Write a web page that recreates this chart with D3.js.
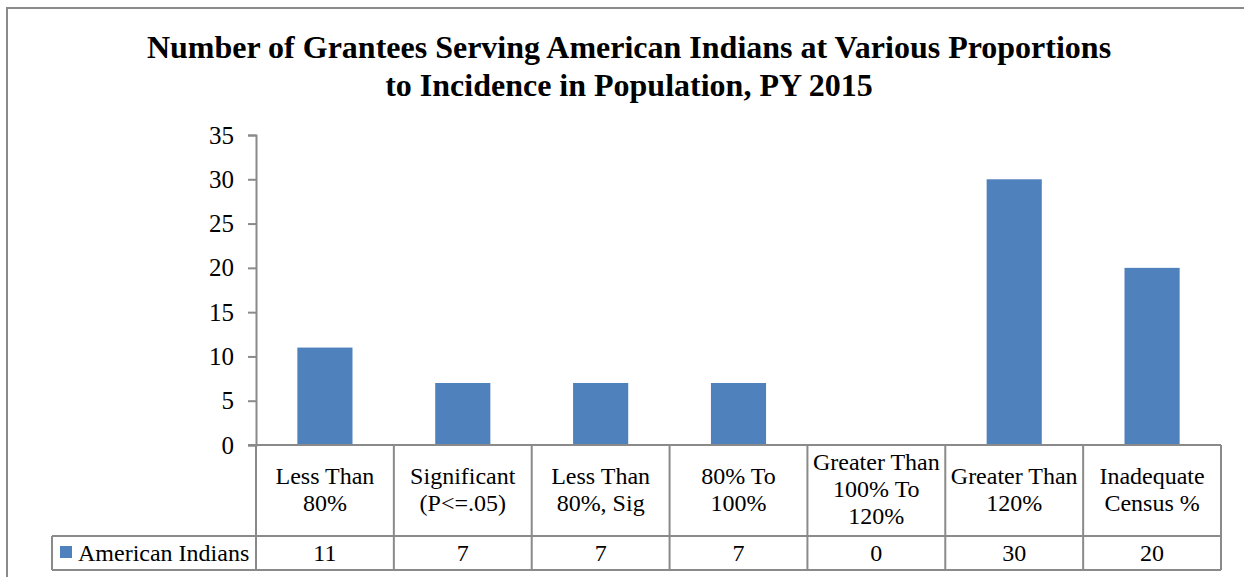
<!DOCTYPE html>
<html>
<head>
<meta charset="utf-8">
<script src="https://cdn.jsdelivr.net/npm/d3@7"></script>
<style>
  body { margin: 0; background: #fff; }
  text { font-family: "Liberation Serif", "Times New Roman", serif; fill: #000; }
</style>
</head>
<body>
<div id="chart"></div>
<script>
// data
var categories = [
  ["Less Than", "80%"],
  ["Significant", "(P<=.05)"],
  ["Less Than", "80%, Sig"],
  ["80% To", "100%"],
  ["Greater Than", "100% To", "120%"],
  ["Greater Than", "120%"],
  ["Inadequate", "Census %"]
];
var seriesName = "American Indians";
var values = [11, 7, 7, 7, 0, 30, 20];
var yTicks = [0, 5, 10, 15, 20, 25, 30, 35];
var titleLines = [
  "Number of Grantees Serving American Indians at Various Proportions",
  "to Incidence in Population, PY 2015"
];

var width = 1244, height = 577;
var plotLeft = 256, plotRight = 1221, plotTop = 135, zeroY = 445;
var headerBottom = 536, tableBottom = 570, legendLeft = 52;
var gridColor = "#8a8a8a", barColor = "#4f81bd";

var svg = d3.select("#chart").append("svg")
    .attr("width", width)
    .attr("height", height);

// outer frame
svg.append("path")
    .attr("d", "M7," + height + "V8H" + width)
    .attr("fill", "none")
    .attr("stroke", gridColor)
    .attr("stroke-width", 2);

// title
svg.append("text")
    .attr("x", 629)
    .attr("y", 58)
    .attr("text-anchor", "middle")
    .style("font-weight", "bold")
    .style("font-size", "32px")
    .selectAll("tspan")
    .data(titleLines)
    .enter()
    .append("tspan")
    .attr("x", 629)
    .attr("dy", function(d, i) { return i ? 38 : 0; })
    .text(function(d) { return d; });

var x = d3.scaleBand()
    .domain(d3.range(categories.length))
    .range([plotLeft, plotRight]);

var y = d3.scaleLinear()
    .domain([0, 35])
    .range([zeroY, plotTop]);

// y axis
var yAxis = svg.append("g")
    .attr("transform", "translate(" + plotLeft + ",0)")
    .call(d3.axisLeft(y).tickValues(yTicks).tickSize(8).tickSizeOuter(8).tickPadding(14));
yAxis.selectAll("line, path").attr("stroke", gridColor).attr("stroke-width", 2);
yAxis.selectAll("text")
    .style("font-size", "25px")
    .style("font-family", "Liberation Serif, serif")
    .attr("fill", "#000");

// bars
var barW = x.bandwidth() * 0.4;
svg.selectAll(".bar")
    .data(values)
    .enter()
    .append("rect")
    .attr("class", "bar")
    .attr("x", function(d, i) { return x(i) + (x.bandwidth() - barW) / 2; })
    .attr("y", function(d) { return y(d); })
    .attr("width", barW)
    .attr("height", function(d) { return y(0) - y(d); })
    .attr("fill", barColor);

// data table
var grid = svg.append("g")
    .attr("stroke", gridColor)
    .attr("stroke-width", 2)
    .attr("fill", "none");

grid.append("line").attr("x1", plotLeft - 8).attr("x2", plotRight).attr("y1", zeroY).attr("y2", zeroY);
grid.append("line").attr("x1", legendLeft).attr("x2", plotRight).attr("y1", headerBottom).attr("y2", headerBottom);
grid.append("line").attr("x1", legendLeft).attr("x2", plotRight).attr("y1", tableBottom).attr("y2", tableBottom);
grid.append("line").attr("x1", legendLeft).attr("x2", legendLeft).attr("y1", headerBottom).attr("y2", tableBottom);

grid.selectAll(".vline")
    .data(d3.range(categories.length + 1))
    .enter()
    .append("line")
    .attr("x1", function(i) { return i < categories.length ? x(i) : plotRight; })
    .attr("x2", function(i) { return i < categories.length ? x(i) : plotRight; })
    .attr("y1", zeroY)
    .attr("y2", tableBottom);

// category labels
svg.selectAll(".cat")
    .data(categories)
    .enter()
    .append("text")
    .attr("class", "cat")
    .attr("text-anchor", "middle")
    .style("font-size", "24px")
    .attr("y", function(d) { return d.length > 2 ? 470 : 484; })
    .each(function(d, i) {
        d3.select(this).selectAll("tspan")
            .data(d)
            .enter()
            .append("tspan")
            .attr("x", x(i) + x.bandwidth() / 2)
            .attr("dy", function(t, j) { return j ? 27 : 0; })
            .text(function(t) { return t; });
    });

// values row
svg.selectAll(".val")
    .data(values)
    .enter()
    .append("text")
    .attr("class", "val")
    .attr("text-anchor", "middle")
    .style("font-size", "24px")
    .attr("x", function(d, i) { return x(i) + x.bandwidth() / 2; })
    .attr("y", 561)
    .text(function(d) { return d; });

// legend key
svg.append("rect")
    .attr("x", 60)
    .attr("y", 546)
    .attr("width", 12)
    .attr("height", 12)
    .attr("fill", barColor);
svg.append("text")
    .attr("x", 78)
    .attr("y", 561)
    .style("font-size", "24px")
    .text(seriesName);
</script>
</body>
</html>
